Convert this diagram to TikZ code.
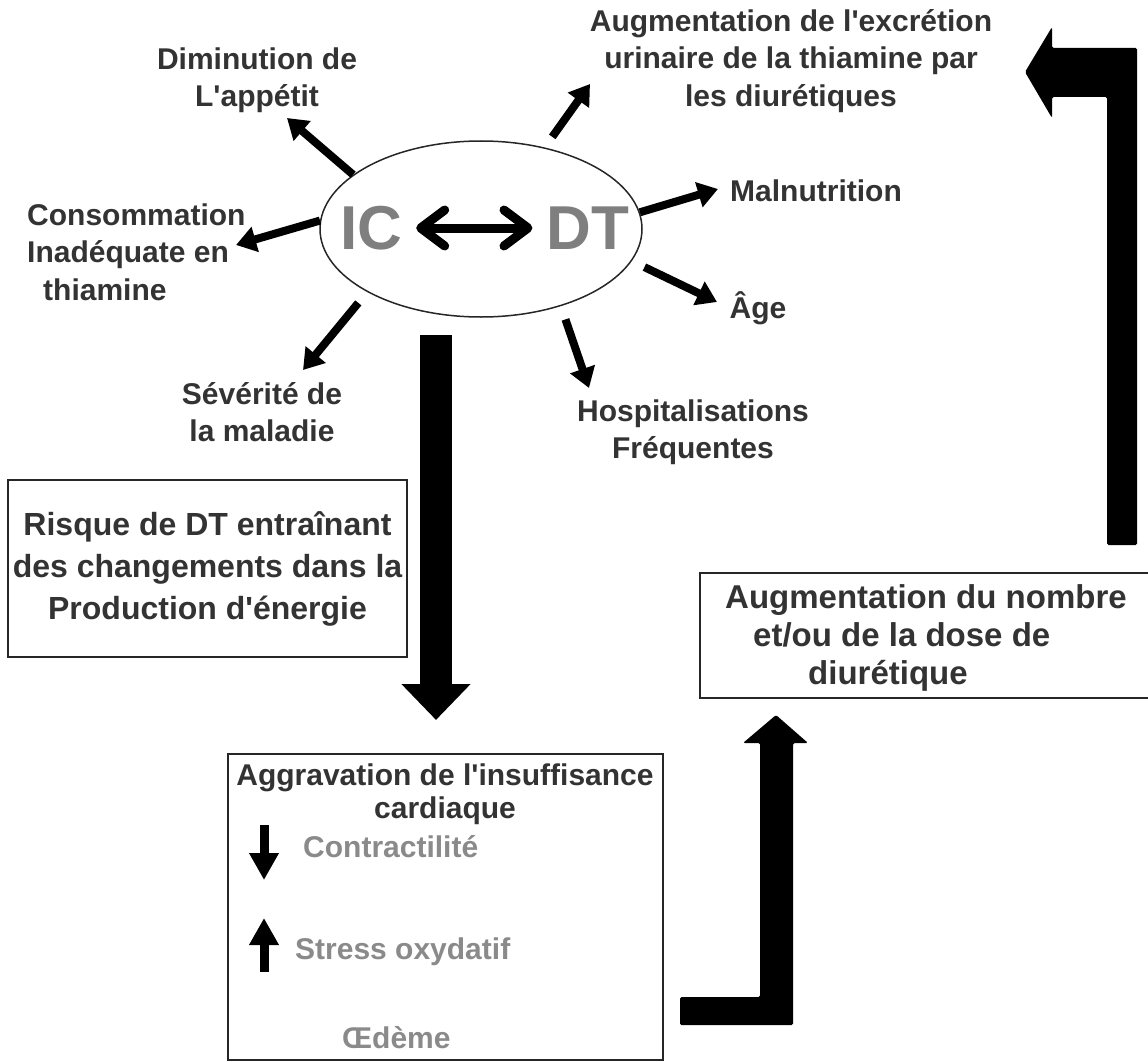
\documentclass[tikz,border=0pt]{standalone}
\usepackage{fontspec}
\setmainfont{Liberation Sans}
\usetikzlibrary{arrows.meta,shapes.geometric}
\definecolor{txt}{HTML}{333333}
\definecolor{icg}{HTML}{7F7F7F}
\definecolor{lg}{HTML}{8A8A8A}
\newcommand{\ap}{\textquotesingle}
\begin{document}
\begin{tikzpicture}[x=1pt,y=-1pt,
  lbl/.style={font=\fontsize{30}{37.5}\selectfont\bfseries,text=txt,align=center,inner sep=0pt},
  bigtxt/.style={font=\fontsize{62}{62}\selectfont\bfseries,text=icg,inner sep=0pt},
  ray/.style={line width=8pt,-{Triangle[length=20pt,width=25pt]}},
  boxed/.style={draw=black!85,line width=2pt,inner sep=0pt},
  blk/.style={fill=black,draw=none,rounded corners=1.5pt},
  subtxt/.style={font=\fontsize{30}{36}\selectfont\bfseries,text=lg,inner sep=0pt,anchor=west},
  smallarr/.style={line width=9pt,-{Triangle[length=27pt,width=28pt]}},
  bigarr/.style={line width=32pt,-{Triangle[length=36pt,width=67pt]}},
]
\useasboundingbox[fill=white] (0,0) rectangle (1148,1062);

% central ellipse
\node[draw=black!85,line width=1.5pt,ellipse,minimum width=322,minimum height=176,inner sep=0pt] (ell) at (481,229) {};
\node[bigtxt] (ic) at (371,228) {IC};
\node[bigtxt] (dt) at (588,228) {DT};
\draw[line width=9pt,line cap=round,
  {Straight Barb[length=24pt,width=36pt,line cap=round,line join=round]}-{Straight Barb[length=24pt,width=36pt,line cap=round,line join=round]},
  shorten <=14pt, shorten >=14pt] (ic) -- (dt);

% labels
\node[lbl] (dim) at (257,80) {Diminution de\\L\ap appétit};
\node[lbl] (aug) at (791,61) {Augmentation de l\ap excrétion\\urinaire de la thiamine par\\les diurétiques};
\node[lbl] (mal) at (816,191) {Malnutrition};
\node[lbl] (age) at (758,308) {Âge};
\node[lbl] (hosp) at (693,432) {Hospitalisations\\Fréquentes};
\node[lbl] (sev) at (262,412) {Sévérité de\\la maladie};
\node[lbl,align=left,anchor=west] (cons) at (27,252) {Consommation\\Inadéquate en\\\hspace*{16pt}thiamine};

% arrow tips
\coordinate (tdim) at (287,118);
\coordinate (taug) at (590,84);
\coordinate (tmal) at (718,189);
\coordinate (tage) at (717,302);
\coordinate (thosp) at (589,388);
\coordinate (tsev) at (303,370);
\coordinate (tcons) at (236,245);

\draw[ray] (ell.157) -- (tdim);
\draw[ray,shorten <=13pt] (ell.52) -- (taug);
\draw[ray] (ell.6.6) -- (tmal);
\draw[ray,shorten <=14pt] (ell.-12.5) -- (tage);
\draw[ray,shorten <=14pt] (ell.-44) -- (thosp);
\draw[ray,shorten <=14pt] (ell.209.4) -- (tsev);
\draw[ray] (ell.177.5) -- (tcons);

% box 1
\node[boxed,minimum width=399,minimum height=177,font=\fontsize{32}{42}\selectfont\bfseries,text=txt,align=center] (b1) at (207.5,568.5)
  {Risque de DT entraînant\\des changements dans la\\Production d\ap énergie};

% big down arrow
\coordinate (da1) at (436,335);
\coordinate (da2) at (436,720);
\draw[bigarr] (da1) -- (da2);

% box 2
\node[boxed,minimum width=435,minimum height=306] (b2) at (445.5,907) {};
\node[lbl,font=\fontsize{30}{33}\selectfont\bfseries] (agg) at (445,794) {Aggravation de l\ap insuffisance\\cardiaque};
\coordinate (sa1) at (264,825);
\coordinate (sa2) at (264,880);
\coordinate (sb1) at (264,972);
\coordinate (sb2) at (264,918);
\draw[smallarr] (sa1) -- (sa2);
\draw[smallarr] (sb1) -- (sb2);
\node[subtxt] (con) at (303,847) {Contractilité};
\node[subtxt] (str) at (295,952) {Stress oxydatif};
\node[subtxt] (oed) at (342,1038) {Œdème};

% box 3
\node[boxed,minimum width=461,minimum height=125,anchor=north west] (b3) at (699,572) {};
\node[font=\fontsize{33}{38}\selectfont\bfseries,text=txt,align=left,anchor=north west,inner sep=0pt] (b3t) at (725,584)
  {Augmentation du nombre\\\hspace*{28pt}et/ou de la dose de\\\hspace*{83pt}diurétique};

% L-shaped arrow from box 2 up to box 3
\fill[blk] (680,997) -- (760,997) -- (760,743) -- (743,743) -- (776,715) -- (808,743) -- (793,743) -- (793,1025) -- (680,1025) -- cycle;

% arrow from box 3 up and left to the excretion label
\fill[blk] (1107,545) -- (1107,97) -- (1052,97) -- (1052,118) -- (1025,72) -- (1052,27) -- (1052,48) -- (1137,48) -- (1137,545) -- cycle;
\end{tikzpicture}
\end{document}
